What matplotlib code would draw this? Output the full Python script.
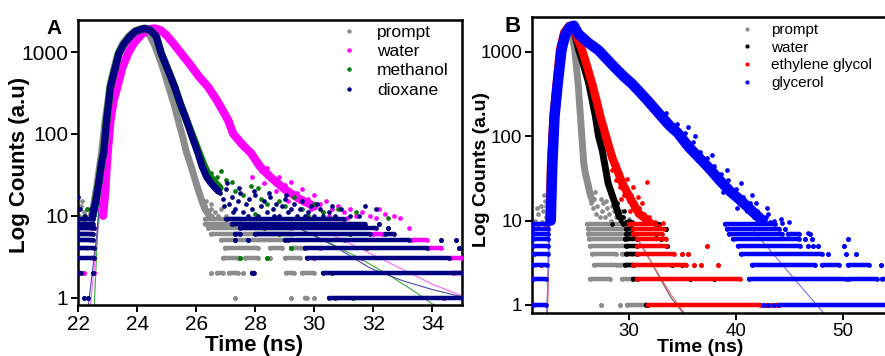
import matplotlib
matplotlib.use("Agg")
import matplotlib.pyplot as plt
from matplotlib.ticker import NullLocator, FixedLocator, FixedFormatter
from matplotlib.lines import Line2D

plt.rcParams['font.family'] = ['Liberation Sans', 'DejaVu Sans']

# ---------------- Panel A data ----------------
a_labels = ["prompt", "water", "methanol", "dioxane"]
a_colors = ["#8c8c8c", "#ff00ff", "#0a7a0a", "#000080"]

# main decay curves (time ns, counts)
a_prompt_t = [22.45, 22.55, 22.65, 22.75, 22.8, 22.92, 23.0, 23.07, 23.2, 23.35, 23.5, 23.7, 23.9, 24.15,
              24.3, 24.45, 24.6, 24.7, 24.9, 25.07, 25.25, 25.39, 25.55, 25.67, 25.85, 26.0, 26.17, 26.3, 26.45]
a_prompt_c = [10, 15, 25, 45, 60, 148, 230, 377, 600, 960, 1250, 1550, 1800, 1950,
              1850, 1550, 1200, 960, 600, 377, 230, 148, 90, 60, 38, 25, 16, 12, 10]
a_water_t = [22.85, 22.92, 23.0, 23.1, 23.2, 23.33, 23.5, 23.69, 23.9, 24.15, 24.4, 24.6, 24.8, 25.0, 25.25,
             25.5, 25.8, 26.1, 26.4, 26.7, 27.08, 27.25, 27.55, 27.86, 28.16, 28.5, 29.0, 29.5, 30.0]
a_water_c = [10, 20, 58, 148, 250, 377, 650, 960, 1300, 1650, 1900, 1950, 1850, 1600, 1250,
             960, 700, 500, 377, 258, 148, 101, 75, 58, 40, 30, 21, 16, 13]
a_meth_t = [22.5, 22.6, 22.7, 22.8, 22.87, 22.97, 23.1, 23.38, 23.55, 23.75, 23.95, 24.25, 24.45, 24.65,
            24.82, 25.05, 25.27, 25.47, 25.67, 25.9, 26.1, 26.25, 26.4, 26.6, 26.8]
a_meth_c = [10, 15, 25, 45, 60, 148, 377, 960, 1250, 1550, 1800, 1950, 1850, 1550,
            960, 600, 377, 230, 148, 90, 58, 42, 32, 26, 22]
a_diox_t = [22.5, 22.6, 22.7, 22.8, 22.87, 22.97, 23.1, 23.38, 23.55, 23.75, 23.95, 24.25, 24.45, 24.65,
            24.82, 25.05, 25.27, 25.47, 25.67, 25.87, 26.06, 26.2, 26.35, 26.5, 26.75]
a_diox_c = [10, 15, 25, 45, 60, 148, 377, 960, 1250, 1550, 1800, 1950, 1850, 1550,
            960, 600, 377, 230, 148, 90, 58, 40, 30, 25, 20]

# scattered noisy points (time, counts)
a_prompt_cloud = [(26.3, 13), (26.4, 11), (26.5, 12), (26.55, 10), (26.65, 11), (26.75, 10), (26.85, 12),
                  (27.0, 10), (26.35, 15), (26.5, 14), (22.05, 10), (22.1, 13), (22.2, 11), (22.3, 12),
                  (22.15, 15), (22.4, 10)]
a_water_cloud = [(28.0, 45), (28.2, 35), (28.4, 38), (28.6, 28), (28.8, 30), (29.0, 24), (29.2, 26), (29.4, 19),
                 (29.6, 21), (29.8, 16), (30.0, 18), (30.2, 14), (30.4, 15), (30.6, 12), (30.8, 13), (31.0, 11),
                 (31.2, 12), (31.4, 10), (31.6, 11), (31.9, 10), (32.1, 9.5), (32.2, 12), (32.4, 10.5),
                 (32.7, 10), (32.9, 9.3), (33.2, 7), (29.1, 15), (29.9, 12), (30.5, 10), (27.9, 30),
                 (28.3, 25), (28.7, 20), (29.3, 17), (30.3, 11), (31.1, 9.5), (22.45, 10), (22.6, 12)]
a_meth_cloud = [(26.2, 45), (26.35, 38), (26.5, 33), (26.7, 30), (26.85, 35), (27.0, 27), (27.2, 26),
                (27.3, 20), (27.6, 18), (27.85, 23), (28.1, 22), (28.2, 16), (28.4, 14), (28.8, 15),
                (29.0, 13), (29.3, 17), (29.6, 12), (30.0, 14), (30.3, 11), (30.8, 12), (31.4, 11),
                (32.5, 9.5), (28.0, 10.5), (29.8, 10), (22.3, 12), (22.2, 10)]
a_diox_cloud = [(26.6, 22), (26.8, 19), (26.9, 16), (27.0, 21), (27.1, 14), (27.2, 17), (27.3, 12), (27.4, 15),
                (27.5, 19), (27.6, 11), (27.7, 14), (27.8, 16), (27.9, 12), (28.0, 18), (28.1, 10), (28.2, 13),
                (28.3, 15), (28.4, 11), (28.5, 17), (28.6, 12), (28.7, 14), (28.8, 10), (28.9, 13), (29.0, 16),
                (29.1, 11), (29.2, 12), (29.3, 14), (29.4, 10), (29.5, 12), (29.6, 15), (29.7, 10), (29.8, 11),
                (29.9, 13), (30.0, 10), (30.2, 12), (30.3, 10), (30.5, 11), (30.7, 10), (30.9, 12), (31.2, 10),
                (31.5, 10), (31.7, 13), (32.1, 12), (27.05, 25), (27.45, 22), (27.95, 20), (28.45, 19),
                (29.05, 18), (26.95, 13), (27.25, 11), (27.75, 10), (28.65, 10), (30.1, 14), (30.6, 13),
                (22.0, 17), (22.08, 12), (22.25, 10), (22.45, 12)]

# quantised low-count rows: (level, t_start, t_end)
a_prompt_rows = [(1, 27.3, 27.3), (1, 29.2, 29.2), (1, 29.7, 29.75), (1, 30.0, 30.0),
                 (2, 26.5, 26.5), (2, 26.7, 26.9), (2, 27.1, 27.4), (2, 27.6, 27.6), (2, 27.9, 27.9),
                 (2, 29.05, 29.3), (2, 29.6, 30.0),
                 (3, 26.9, 27.4), (3, 27.65, 28.1), (3, 28.5, 28.5), (3, 29.0, 29.5),
                 (4, 26.97, 28.1), (4, 28.5, 28.9), (4, 29.2, 29.6),
                 (5, 26.85, 29.0), (6, 26.5, 29.2), (7, 26.4, 29.2), (8, 26.3, 28.5), (9, 26.3, 27.5),
                 (4, 22.0, 22.3), (5, 22.0, 22.4), (6, 22.0, 22.4), (7, 22.0, 22.45), (8, 22.0, 22.45),
                 (9, 22.0, 22.45)]
a_water_rows = [(4, 33.85, 34.3), (5, 33.3, 33.8), (6, 32.0, 32.3), (3, 30.0, 30.0), (3, 31.6, 31.6),
                (2, 22.2, 22.2), (2, 22.55, 22.55), (3, 22.5, 22.55), (3, 34.6, 35.0), (2, 34.7, 35.0),
                (1, 34.4, 34.4), (7, 22.45, 22.55), (5, 31.0, 31.0), (4, 30.2, 30.2)]
a_meth_rows = [(4, 29.2, 29.2), (3, 28.4, 28.4), (2, 30.6, 30.6), (1, 30.7, 30.7), (1, 31.3, 31.3),
               (5, 29.1, 29.1), (6, 28.8, 28.8), (7, 28.3, 28.3), (8, 29.9, 29.9), (3, 27.5, 27.5),
               (4, 31.8, 31.8), (6, 31.2, 31.2), (9, 22.2, 22.2), (8, 22.4, 22.4)]
a_diox_rows = [(1, 30.5, 35.0), (1, 22.2, 22.2), (1, 22.35, 22.35),
               (2, 30.3, 35.0), (2, 27.9, 27.95), (2, 22.0, 22.1), (2, 22.5, 22.5),
               (3, 29.75, 34.55), (3, 22.0, 22.55),
               (4, 29.7, 33.8), (4, 34.9, 34.9), (4, 22.0, 22.55),
               (5, 29.0, 33.2), (5, 34.3, 34.3), (5, 34.8, 34.8), (5, 22.0, 22.5), (5, 27.3, 27.3), (5, 27.75, 27.75),
               (6, 28.0, 31.9), (6, 32.4, 32.7), (6, 22.0, 22.5), (6, 27.3, 27.5),
               (7, 27.5, 32.1), (7, 32.5, 32.5), (7, 22.0, 22.55),
               (8, 27.2, 31.7), (8, 32.2, 32.2), (8, 22.0, 22.5),
               (9, 27.0, 31.0), (9, 22.0, 22.5)]

# fitted curves (rise part and tail part)
a_water_fit = ([22.42, 22.7, 22.9], [0.8, 8, 20], [30.5, 31.3, 32.1, 33.0, 34.0, 35.0], [6.1, 4.4, 3.17, 2.2, 1.45, 1.05])
a_meth_fit = ([22.55, 22.7, 22.85], [0.8, 12, 40], [29.3, 30.4, 31.55, 32.5, 33.3, 34.05], [7.5, 4.9, 3.0, 1.9, 1.25, 0.81])
a_diox_fit = ([22.35, 22.63, 22.8], [0.8, 5.6, 30], [29.4, 30.6, 31.9, 33.0, 34.0, 35.0], [7.3, 4.4, 2.28, 1.6, 1.25, 1.02])

# ---------------- Panel B data ----------------
b_labels = ["prompt", "water", "ethylene glycol", "glycerol"]
b_colors = ["#8c8c8c", "#000000", "#ff0000", "#0000ff"]

b_prompt_t = [22.55, 22.65, 22.71, 22.85, 23.03, 23.34, 23.65, 23.9, 24.2, 24.43, 24.7, 24.99, 25.3, 25.52,
              25.83, 26.0, 26.2, 26.4, 26.6]
b_prompt_c = [10, 20, 47, 100, 170, 422, 1050, 1500, 1900, 2080, 1700, 1050, 422, 170,
              47, 35, 27.7, 21, 17.6]
b_water_t = [22.6, 22.75, 22.85, 23.1, 23.4, 23.7, 24.0, 24.4, 24.7, 25.0, 25.36, 25.8, 26.3, 26.92,
             27.2, 27.54, 28.1, 28.63, 29.16]
b_water_c = [10, 30, 60, 170, 422, 1050, 1600, 2000, 2050, 1600, 1050, 700, 422, 170,
             100, 69, 27.7, 17.6, 11]
b_eg_t = [22.65, 22.78, 23.0, 23.3, 23.6, 24.0, 24.5, 24.75, 25.1, 25.67, 26.1, 26.6, 27.0, 27.38, 28.0,
          28.5, 29.0, 29.4, 30.2, 31.0, 31.8]
b_eg_c = [10, 47, 170, 422, 1050, 1700, 2050, 2000, 1600, 1050, 700, 422, 270, 170, 90,
          55, 38, 28, 18, 12, 10]
b_gly_t = [22.75, 22.9, 23.1, 23.4, 23.75, 24.1, 24.5, 24.9, 25.3, 26.2, 27.2, 28.5, 29.5, 30.3, 31.0, 31.7,
           32.4, 33.1, 33.8, 34.6, 35.6, 36.5, 37.5, 38.5, 39.5, 40.4, 41.5, 42.5]
b_gly_c = [10, 47, 170, 422, 1050, 1600, 1950, 2050, 1650, 1300, 1050, 700, 520, 422, 340, 272,
           215, 170, 135, 109, 75, 57, 42, 30, 22, 17.6, 13, 10]

b_prompt_cloud = [(26.3, 20), (26.5, 16), (26.7, 14), (26.8, 18), (27.0, 12), (27.1, 15), (27.3, 11), (27.5, 13),
                  (27.6, 16), (27.8, 11), (28.0, 14), (28.2, 12), (28.4, 10), (28.6, 13), (28.8, 11), (29.0, 12),
                  (29.2, 10), (29.5, 11), (29.8, 10), (30.0, 10.5), (26.9, 22), (27.4, 18), (27.9, 17),
                  (28.5, 15), (29.3, 13),
                  (21.3, 10), (21.6, 12), (21.8, 15), (22.0, 13), (22.2, 17), (22.3, 11), (21.9, 9.5),
                  (22.1, 20), (21.5, 14), (22.35, 15)]
b_water_cloud = [(28.8, 14), (29.0, 12), (29.3, 10), (29.5, 11), (29.8, 9.5), (30.0, 10), (30.3, 9.5),
                 (28.5, 9), (29.6, 13), (28.3, 22), (28.9, 16)]
b_eg_cloud = [(28.5, 40), (28.8, 30), (29.0, 35), (29.2, 25), (29.4, 28), (29.6, 20), (29.8, 23), (30.0, 17),
              (30.2, 20), (30.4, 14), (30.6, 16), (30.8, 12), (31.0, 14), (31.2, 11), (31.4, 12), (31.6, 10),
              (31.9, 11), (32.1, 10), (32.5, 9.5), (29.3, 18), (30.1, 13), (31.3, 16), (33.2, 9.3),
              (32.8, 8.5), (31.75, 29), (30.4, 25), (29.9, 31), (28.9, 45), (28.3, 60), (30.9, 19),
              (22.45, 12), (22.2, 9)]
b_gly_cloud = [(33.5, 190), (34.0, 120), (34.5, 140), (35.0, 90), (35.3, 110), (35.8, 70), (36.0, 85),
               (36.3, 55), (36.7, 65), (37.0, 45), (37.3, 55), (37.6, 38), (38.0, 44), (38.3, 30),
               (38.6, 36), (39.0, 26), (39.3, 30), (39.6, 20), (40.0, 24), (40.3, 16), (40.7, 19),
               (41.0, 13), (41.3, 16), (41.7, 11), (42.0, 13), (42.4, 10), (42.8, 11), (43.2, 9.5),
               (43.6, 10), (44.3, 9.3), (45.0, 9.5), (42.9, 14), (44.2, 10.5), (46.7, 7.1),
               (37.8, 60), (39.2, 40), (40.5, 28), (41.5, 20), (36.2, 100), (35.5, 130), (38.8, 22),
               (40.1, 14), (41.9, 16), (43.0, 12)]

b_prompt_rows = [(1, 27.4, 27.4), (1, 29.25, 29.25), (1, 29.9, 31.6),
                 (2, 26.45, 28.3), (2, 29.4, 30.3),
                 (3, 26.8, 28.9), (3, 29.2, 30.3),
                 (4, 26.6, 28.8), (4, 29.4, 30.3),
                 (5, 26.45, 29.9), (6, 26.3, 29.9), (7, 26.2, 30.0), (8, 26.2, 30.0), (9, 26.1, 30.0)]
b_water_rows = [(1, 31.6, 31.8), (2, 30.4, 30.8), (2, 35.7, 35.7), (2, 38.0, 38.0),
                (3, 29.7, 30.5), (3, 34.1, 34.1), (3, 35.0, 35.0),
                (4, 29.8, 30.8), (5, 29.8, 30.8), (5, 33.6, 33.6), (6, 29.7, 30.8), (6, 33.0, 33.0),
                (7, 29.8, 30.5), (7, 32.6, 32.6), (8, 29.8, 30.3), (8, 33.5, 33.5), (9, 29.5, 30.3),
                (9, 32.5, 32.8)]
b_eg_rows = [(1, 31.85, 42.3), (1, 42.8, 42.8), (1, 43.3, 43.3), (1, 43.8, 43.9),
             (2, 30.8, 40.4),
             (3, 30.4, 35.4), (3, 36.1, 36.1), (3, 36.8, 36.8), (3, 38.3, 38.3),
             (4, 30.8, 34.2), (4, 35.0, 35.0), (4, 35.5, 35.5),
             (5, 30.8, 33.5), (5, 37.3, 37.3), (6, 30.8, 33.5), (7, 30.4, 33.1), (8, 30.4, 33.3),
             (9, 30.0, 32.5), (3, 21.8, 21.8), (9, 21.6, 21.6)]
b_gly_rows = [(1, 21.1, 22.3), (2, 21.1, 22.3), (3, 21.1, 22.4), (4, 21.2, 22.5), (5, 21.1, 22.5),
              (6, 21.1, 22.5), (7, 21.1, 22.5), (8, 21.1, 22.5), (9, 21.1, 22.5),
              (1, 42.5, 42.5), (1, 43.05, 43.05), (1, 43.6, 43.6), (1, 44.0, 54.1),
              (2, 41.2, 50.3), (2, 50.6, 53.2), (2, 53.6, 54.1),
              (3, 41.5, 47.4), (3, 48.0, 49.6), (3, 50.5, 52.4), (3, 53.5, 53.5),
              (4, 40.5, 48.0), (4, 48.6, 48.6), (4, 50.3, 50.3), (4, 51.2, 51.2),
              (5, 40.2, 46.0), (5, 46.7, 46.7), (5, 47.2, 47.2), (5, 47.7, 47.7), (5, 50.1, 50.1),
              (6, 39.7, 45.9), (6, 46.5, 46.5), (6, 47.1, 47.1), (6, 50.5, 50.5),
              (7, 39.4, 44.3), (7, 44.9, 45.9), (7, 46.9, 46.9),
              (8, 39.2, 44.0), (8, 44.6, 44.6), (9, 39.0, 43.7)]

b_water_fit = ([22.4, 22.6, 22.8], [0.8, 8, 40], [31.0, 32.0, 33.0, 34.0, 35.1], [5.6, 3.4, 2.0, 1.2, 0.8])
b_eg_fit = ([22.45, 22.65, 22.85], [0.8, 8, 40], [30.8, 31.8, 32.9, 34.0, 35.2], [6.2, 3.8, 2.2, 1.3, 0.8])
b_gly_fit = ([22.4, 22.6, 22.85], [0.8, 8, 40], [41.7, 43.5, 45.5, 47.0, 48.2], [7.4, 4.0, 2.0, 1.2, 0.8])

y_ticks = [1, 10, 100, 1000]
y_ticklabels = ["1", "10", "100", "1000"]
a_xticks = [22, 24, 26, 28, 30, 32, 34]
b_xticks = [30, 40, 50]

W, H = 885, 356
fig = plt.figure(figsize=(W / 100, H / 100), dpi=100)

def frac_box(l, r, t, b):
    return [l / W, 1 - b / H, (r - l) / W, (b - t) / H]

axA = fig.add_axes(frac_box(78, 462, 20, 305))
axB = fig.add_axes(frac_box(532, 887, 17, 313))

MS = 3.4

def draw_series(ax, t, c, cloud, rows, color, lw, z):
    ax.plot(t, c, '-', color=color, lw=lw, solid_capstyle='round', solid_joinstyle='round', zorder=z)
    ax.plot(t, c, 'o', color=color, ms=MS + 0.6, mew=0, zorder=z)
    if cloud:
        ax.plot([p[0] for p in cloud], [p[1] for p in cloud], 'o', color=color, ms=MS, mew=0, zorder=z)
    for lvl, t0, t1 in rows:
        ax.plot([t0, t1], [lvl, lvl], '-o', color=color, lw=MS * 0.95, ms=MS, mew=0,
                solid_capstyle='round', zorder=z)

def draw_fit(ax, fit, color):
    ax.plot(fit[0], fit[1], '-', color=color, lw=0.8, zorder=1.5)
    ax.plot(fit[2], fit[3], '-', color=color, lw=0.8, zorder=1.5)

# Panel A
draw_series(axA, a_prompt_t, a_prompt_c, a_prompt_cloud, a_prompt_rows, a_colors[0], 5.0, 2)
draw_series(axA, a_water_t, a_water_c, a_water_cloud, a_water_rows, a_colors[1], 6.0, 3)
draw_series(axA, a_meth_t, a_meth_c, a_meth_cloud, a_meth_rows, a_colors[2], 5.5, 4)
draw_series(axA, a_diox_t, a_diox_c, a_diox_cloud, a_diox_rows, a_colors[3], 5.0, 5)
draw_fit(axA, a_water_fit, "#ff66ff")
draw_fit(axA, a_meth_fit, "#33aa33")
draw_fit(axA, a_diox_fit, "#4a4aa8")

# Panel B
draw_series(axB, b_prompt_t, b_prompt_c, b_prompt_cloud, b_prompt_rows, b_colors[0], 5.0, 2)
draw_series(axB, b_water_t, b_water_c, b_water_cloud, b_water_rows, b_colors[1], 5.0, 3)
draw_series(axB, b_eg_t, b_eg_c, b_eg_cloud, b_eg_rows, b_colors[2], 6.0, 4)
draw_series(axB, b_gly_t, b_gly_c, b_gly_cloud, b_gly_rows, b_colors[3], 7.5, 5)
draw_fit(axB, b_water_fit, "#555555")
draw_fit(axB, b_eg_fit, "#ff6666")
draw_fit(axB, b_gly_fit, "#7070ff")

for ax, xl, yl, xt, fs in [(axA, (22, 35), (0.81, 2470), a_xticks, 15),
                           (axB, (21, 54.1), (0.80, 2600), b_xticks, 13.5)]:
    ax.set_yscale('log')
    ax.set_xlim(*xl)
    ax.set_ylim(*yl)
    ax.yaxis.set_major_locator(FixedLocator(y_ticks))
    ax.yaxis.set_major_formatter(FixedFormatter(y_ticklabels))
    ax.yaxis.set_minor_locator(NullLocator())
    ax.set_xticks(xt)
    ax.set_xticklabels([str(v) for v in xt])
    ax.tick_params(axis='both', direction='out', length=5, width=1.4, labelsize=fs, pad=2)
    for s in ax.spines.values():
        s.set_linewidth(1.8)

# labels
fig.text(254 / W, 1 - 346 / H, "Time (ns)", ha='center', va='center', fontsize=16, fontweight='bold')
fig.text(20 / W, 1 - 165 / H, "Log Counts (a.u)", ha='center', va='center', rotation=90,
         fontsize=16, fontweight='bold')
fig.text(700 / W, 1 - 347 / H, "Time (ns)", ha='center', va='center', fontsize=14, fontweight='bold')
fig.text(481 / W, 1 - 170 / H, "Log Counts (a.u)", ha='center', va='center', rotation=90,
         fontsize=14, fontweight='bold')
fig.text(54 / W, 1 - 28 / H, "A", ha='center', va='center', fontsize=15, fontweight='bold')
fig.text(513 / W, 1 - 27 / H, "B", ha='center', va='center', fontsize=16, fontweight='bold')

# legends
hA = [Line2D([], [], ls='none', marker='o', ms=3.2, mew=0, color=c) for c in a_colors]
axA.legend(hA, a_labels, loc='upper left', bbox_to_anchor=(338.6 / W, 1 - 25 / H),
           bbox_transform=fig.transFigure, frameon=False, fontsize=12.5, handlelength=1.2,
           handletextpad=1.0, labelspacing=0.23, borderpad=0, borderaxespad=0)
hB = [Line2D([], [], ls='none', marker='o', ms=3.0, mew=0, color=c) for c in b_colors]
axB.legend(hB, b_labels, loc='upper left', bbox_to_anchor=(737.8 / W, 1 - 23 / H),
           bbox_transform=fig.transFigure, frameon=False, fontsize=11, handlelength=1.2,
           handletextpad=0.97, labelspacing=0.24, borderpad=0, borderaxespad=0)

fig.savefig("out.png", dpi=100)
